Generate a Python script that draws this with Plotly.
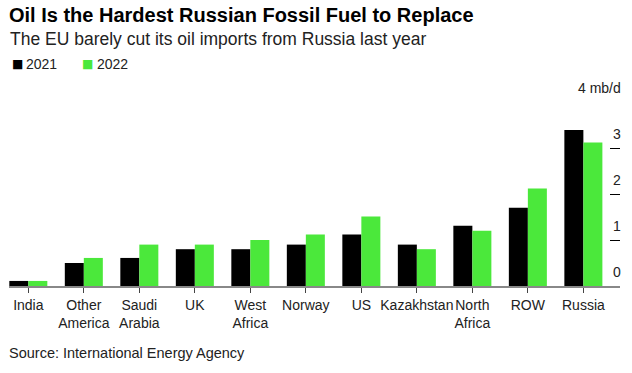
import plotly.graph_objects as go

categories = ["India", "Other America", "Saudi Arabia", "UK", "West Africa", "Norway",
              "US", "Kazakhstan", "North Africa", "ROW", "Russia"]
tick_labels = ["India", "Other<br>America", "Saudi<br>Arabia", "UK", "West<br>Africa", "Norway",
               "US", "Kazakhstan", "North<br>Africa", "ROW", "Russia"]
imports_2021 = [0.11, 0.50, 0.61, 0.80, 0.80, 0.90, 1.12, 0.90, 1.31, 1.70, 3.39]
imports_2022 = [0.11, 0.61, 0.90, 0.90, 1.00, 1.12, 1.51, 0.80, 1.20, 2.12, 3.12]
series_names = ["2021", "2022"]
series_colors = ["#000000", "#4BE83B"]
y_ticks = [0, 1, 2, 3, 4]
y_tick_text = ["0", "1", "2", "3", "4 mb/d"]

W, H = 632, 373
ML, MR, MT, MB = 9, 12, 102, 87
PW = W - ML - MR
PH = H - MT - MB
FONT = "Liberation Sans, Arial, sans-serif"


def py(px_from_top):
    return (H - MB - px_from_top) / PH


def pxx(px_from_left):
    return (px_from_left - ML) / PW


fig = go.Figure()
for name, vals, col in zip(series_names, [imports_2021, imports_2022], series_colors):
    fig.add_trace(go.Bar(name=name, x=categories, y=vals, marker_color=col,
                         marker_line_width=0))

annotations = []
for v, t in zip(y_ticks, y_tick_text):
    annotations.append(dict(x=1, xref="paper", y=v, yref="y", text=t, showarrow=False,
                            xanchor="right", yanchor="bottom", xshift=3, yshift=4,
                            font=dict(size=14, color="#222", family=FONT)))

annotations.append(dict(x=pxx(8), xref="paper", y=py(39), yref="paper",
                        text="The EU barely cut its oil imports from Russia last year",
                        showarrow=False, xanchor="left", yanchor="middle",
                        font=dict(size=17.5, color="#222", family=FONT)))
annotations.append(dict(x=pxx(7), xref="paper", y=py(353), yref="paper",
                        text="Source: International Energy Agency",
                        showarrow=False, xanchor="left", yanchor="middle",
                        font=dict(size=14.5, color="#222", family=FONT)))

# legend swatches and labels
legend_sq_x = [10, 80]
legend_tx_x = [24, 95]
for name, col, sx, tx in zip(series_names, series_colors, legend_sq_x, legend_tx_x):
    annotations.append(dict(x=pxx(sx), xref="paper", y=py(64), yref="paper", text="■",
                            showarrow=False, xanchor="left", yanchor="middle",
                            font=dict(size=12, color=col, family="DejaVu Sans")))
    annotations.append(dict(x=pxx(tx), xref="paper", y=py(64), yref="paper", text=name,
                            showarrow=False, xanchor="left", yanchor="middle",
                            font=dict(size=14, color="#222", family=FONT)))

fig.update_layout(
    width=W, height=H,
    margin=dict(l=ML, r=MR, t=MT, b=MB),
    paper_bgcolor="white", plot_bgcolor="white",
    barmode="group", bargap=0.315, bargroupgap=0,
    title=dict(text="<b>Oil Is the Hardest Russian Fossil Fuel to Replace</b>",
               x=9 / W, xanchor="left", xref="container",
               y=1 - 15 / H, yanchor="middle", yref="container",
               font=dict(size=20, color="#000", family=FONT)),
    showlegend=False,
    xaxis=dict(type="category", range=[-0.348, 10.66], tickvals=categories,
               ticktext=tick_labels, tickangle=0, showline=True, linecolor="#888",
               linewidth=2, ticks="outside", ticklen=5, tickcolor="#444", tickwidth=1,
               tickfont=dict(size=14, color="#222", family=FONT), showgrid=False,
               fixedrange=True),
    yaxis=dict(range=[0, 4], side="right", tickvals=y_ticks, ticks="inside", ticklen=10,
               tickcolor="#000", tickwidth=1, showticklabels=False, showgrid=False,
               zeroline=False, showline=False, fixedrange=True),
    annotations=annotations,
)

fig.write_html("out.html", config={"displayModeBar": False},
               post_script="document.body.style.margin='0';document.body.style.padding='0';")
